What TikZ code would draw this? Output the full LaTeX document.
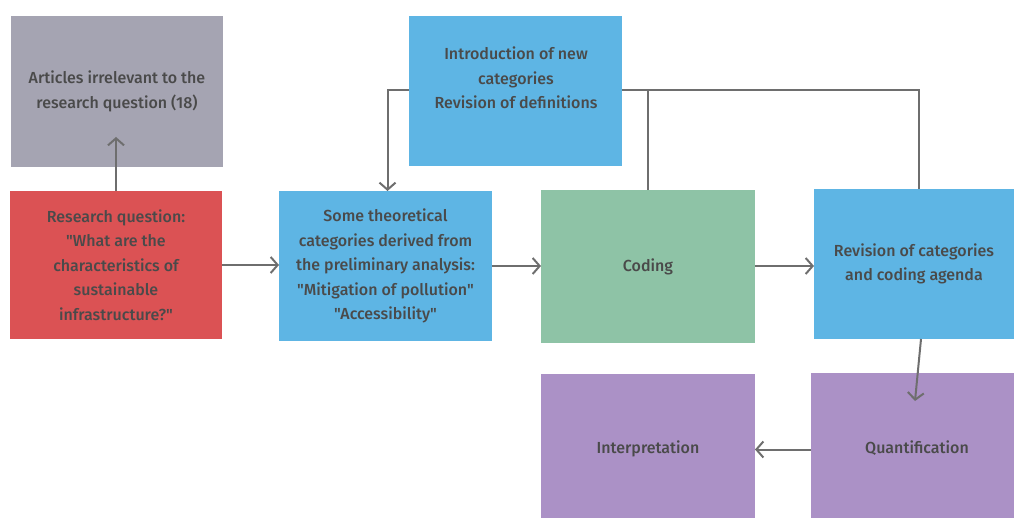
\documentclass[tikz,border=0pt]{standalone}
\usepackage{fontspec}
\setmainfont{Fira Sans}[BoldFont={Fira Sans Medium}, Ligatures=TeXOff]
\usetikzlibrary{arrows.meta}
\definecolor{cgrey}{HTML}{A5A4B2}
\definecolor{cred}{HTML}{DB5254}
\definecolor{cblue}{HTML}{5EB5E4}
\definecolor{cgreen}{HTML}{8EC3A6}
\definecolor{cpurple}{HTML}{AB91C6}
\definecolor{ctext}{HTML}{4A4A4A}
\definecolor{cline}{HTML}{6E6E6E}
\tikzset{
  box/.style={rectangle, inner sep=0pt, outer sep=0pt, draw=none, align=center,
    text=ctext, font=\fontsize{16}{24.5}\selectfont\bfseries},
  txt/.style={inner sep=0pt, align=center, text=ctext, font=\fontsize{16}{24.5}\selectfont\bfseries},
  conn/.style={draw=cline, line width=2pt},
  arr/.style={conn, -{Straight Barb[length=7pt,width=16pt,line width=2pt]}},
}
\begin{document}
\begin{tikzpicture}[x=1pt,y=-1pt]
\useasboundingbox (0,0) rectangle (1014,518);
% boxes
\node[box, fill=cgrey, minimum width=212pt, minimum height=151pt] (grey) at (117,91.5)
  {Articles irrelevant to the\\research question (18)};
\node[box, fill=cred, minimum width=212pt, minimum height=148pt] (red) at (116,265)
  {Research question:\\"What are the\\characteristics of\\sustainable\\infrastructure?"};
\node[box, fill=cblue, minimum width=213pt, minimum height=150pt] (mid) at (385.5,266)
  {Some theoretical\\categories derived from\\the preliminary analysis:\\"Mitigation of pollution"\\"Accessibility"};
\node[box, fill=cblue, minimum width=213pt, minimum height=150pt] (top) at (515.5,91) {};
\node[txt] (toptext) at (516,78) {Introduction of new\\categories\\Revision of definitions};
\node[box, fill=cgreen, minimum width=214pt, minimum height=153pt] (coding) at (648,266.5) {Coding};
\node[box, fill=cblue, minimum width=200pt, minimum height=150pt] (rev) at (914,264)
  {Revision of categories\\and coding agenda};
\node[box, fill=cpurple, minimum width=214pt, minimum height=144pt] (interp) at (648,446) {};
\node[txt] (interptext) at (648,449) {Interpretation};
\node[box, fill=cpurple, minimum width=203pt, minimum height=145pt] (quant) at (912.5,445.5) {};
\node[txt] (quanttext) at (917,448) {Quantification};
% helper coordinates
\coordinate (gtip) at (116,137);
\coordinate (rj) at (919,90);
\coordinate (rs) at (921,339);
\coordinate (qtip) at (915,401);
\coordinate (qy) at (0,449.5);
% connectors
\draw[arr] (red.north) -- (gtip);
\draw[arr] (red.east) -- (mid.west |- red.east);
\draw[arr] (mid.east) -- (coding.west |- mid.east);
\draw[arr] (coding.east |- mid.east) -- (rev.west |- mid.east);
\draw[arr] (top.west |- rj) -| ([xshift=2pt]mid.north);
\draw[conn] (top.east |- rj) -- (rj) -- (rj |- rev.north);
\draw[conn] (coding.north) -- (coding.north |- rj);
\draw[arr] (rs) -- (qtip);
\draw[arr] (quant.west |- qy) -- (interp.east |- qy);
\end{tikzpicture}
\end{document}
